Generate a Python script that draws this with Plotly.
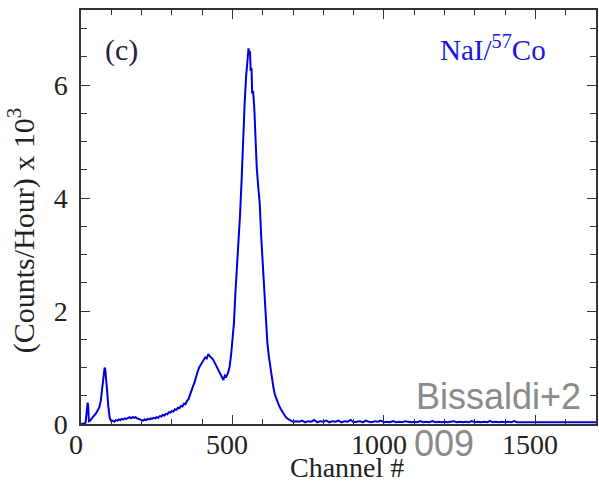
import plotly.graph_objects as go

# ---- data (channel, counts/hour x 10^3) ----
channels_low = [0, 5, 10, 15, 18, 20, 22, 24, 26, 30, 35, 40, 45, 50, 55, 60, 65, 70, 75, 78,
                80, 83, 86, 90, 95, 100, 105, 110, 115, 120, 125, 130, 135, 140, 145, 150, 155,
                160, 165, 170, 175, 180, 185, 190, 195, 200, 205, 210, 215, 220, 225, 230, 235,
                240, 245, 250, 255, 260, 265, 270, 275, 280, 285, 290, 295, 300, 305, 310, 315,
                320, 325, 330, 335, 340, 345, 350, 355, 360, 365, 370, 375, 380, 385, 390, 395,
                400, 405, 410, 415, 420, 425, 430, 435, 440, 445, 450, 455, 460, 465, 470, 475,
                480, 485, 490, 495, 500, 505, 510, 515, 520, 525, 530, 535, 540, 545, 550, 553,
                556, 558, 560, 563, 565, 568, 572, 575, 580, 585, 590, 595, 600, 605, 610, 615,
                620, 625, 630, 635, 640, 645, 650, 655, 660, 665, 670, 675, 680, 685, 690, 695, 700]
counts_low = [0.00, 0.00, 0.01, 0.02, 0.15, 0.30, 0.38, 0.30, 0.05, 0.06, 0.10, 0.14, 0.16, 0.19,
              0.23, 0.29, 0.40, 0.62, 0.88, 1.00, 0.97, 0.82, 0.60, 0.32, 0.10, 0.05, 0.06, 0.04,
              0.07, 0.06, 0.08, 0.07, 0.09, 0.08, 0.10, 0.09, 0.11, 0.12, 0.10, 0.12, 0.11, 0.12,
              0.10, 0.09, 0.08, 0.07, 0.06, 0.08, 0.07, 0.09, 0.08, 0.10, 0.09, 0.11, 0.10, 0.12,
              0.11, 0.14, 0.13, 0.16, 0.15, 0.18, 0.17, 0.21, 0.20, 0.23, 0.22, 0.26, 0.25, 0.29,
              0.28, 0.32, 0.31, 0.36, 0.35, 0.41, 0.44, 0.52, 0.58, 0.67, 0.74, 0.85, 0.93, 1.00,
              1.04, 1.10, 1.12, 1.18, 1.16, 1.24, 1.20, 1.18, 1.15, 1.10, 1.05, 1.00, 0.94, 0.90,
              0.85, 0.78, 0.86, 0.84, 0.90, 1.00, 1.20, 1.50, 1.80, 2.35, 2.75, 3.25, 3.70, 4.30,
              5.05, 5.65, 6.15, 6.45, 6.65, 6.55, 6.60, 6.25, 6.30, 5.85, 5.90, 5.60, 5.10, 4.55,
              4.20, 3.90, 3.30, 2.80, 2.30, 1.85, 1.45, 1.20, 1.00, 0.80, 0.65, 0.52, 0.44, 0.37,
              0.31, 0.26, 0.21, 0.17, 0.13, 0.10, 0.08, 0.06, 0.05, 0.04]

channels_tail = list(range(710, 1710, 10))
counts_tail = [0.05, 0.04, 0.06, 0.03, 0.05, 0.04, 0.07, 0.03, 0.05, 0.04,
               0.06, 0.03, 0.05, 0.04, 0.06, 0.03, 0.05, 0.04, 0.07, 0.03,
               0.04, 0.05, 0.03, 0.06, 0.04, 0.03, 0.05, 0.04, 0.06, 0.03,
               0.04, 0.03, 0.05, 0.03, 0.04, 0.03, 0.05, 0.04, 0.03, 0.04,
               0.03, 0.05, 0.03, 0.04, 0.03, 0.05, 0.03, 0.04, 0.03, 0.04,
               0.03, 0.04, 0.05, 0.03, 0.04, 0.03, 0.04, 0.03, 0.05, 0.03,
               0.04, 0.03, 0.04, 0.03, 0.05, 0.03, 0.04, 0.03, 0.04, 0.03,
               0.04, 0.03, 0.05, 0.03, 0.03, 0.04, 0.03, 0.04, 0.03, 0.04,
               0.03, 0.04, 0.03, 0.03, 0.04, 0.03, 0.04, 0.03, 0.03, 0.04,
               0.03, 0.04, 0.03, 0.03, 0.04, 0.03, 0.03, 0.04, 0.03, 0.03]

channels = channels_low + channels_tail
counts = counts_low + counts_tail

x_range = [0, 1700]
y_range = [0, 7.33]
x_ticks = [0, 500, 1000, 1500]
x_tick_labels = ["0", "500", "1000", "1500"]
y_ticks = [0, 2, 4, 6]

# ---- figure ----
W, H = 599, 483
L, R, T, B = 81, 1, 10, 59
PW, PH = W - L - R, H - T - B


def px(x):
    return (x - L) / PW


def py(y):
    return (H - B - y) / PH


serif = "Liberation Serif, Times New Roman, serif"
axis_col = "#333333"
tick_font = dict(family=serif, size=28, color="#222222")

fig = go.Figure()
fig.add_trace(go.Scatter(x=channels, y=counts, mode="lines",
                         line=dict(color="#0000dd", width=2), showlegend=False,
                         hoverinfo="skip"))

common = dict(showline=True, linecolor=axis_col, linewidth=1.5, mirror="allticks",
              ticks="inside", tickcolor=axis_col, tickwidth=1.3, showgrid=False,
              zeroline=False, tickfont=tick_font)

fig.update_xaxes(range=x_range, tickvals=x_ticks, ticklen=9, showticklabels=False,
                 minor=dict(dtick=100, ticks="inside", ticklen=5, tickcolor=axis_col,
                            tickwidth=1.2, showgrid=False),
                 **common)
fig.update_yaxes(range=y_range, tickvals=y_ticks, ticklen=9,
                 minor=dict(dtick=0.5, ticks="inside", ticklen=6, tickcolor=axis_col,
                            tickwidth=1.2, showgrid=False),
                 ticklabelstandoff=6, **common)

# x tick labels placed on the data scale
for v, t in zip(x_ticks, x_tick_labels):
    fig.add_annotation(xref="x", yref="paper", x=v, y=py(444), text=t, showarrow=False,
                       xanchor="center", yanchor="middle", xshift=-5, font=tick_font)

ann = [
    dict(text="Channel #", x=px(348), y=py(467), font=dict(family=serif, size=28, color="#222222")),
    dict(text="(Counts/Hour) x 10<sup>3</sup>", x=px(22), y=py(230), textangle=-90,
         font=dict(family=serif, size=30, color="#222222")),
    dict(text="(c)", x=px(122), y=py(50), font=dict(family=serif, size=30, color="#222238")),
    dict(text="NaI/<sup>57</sup>Co", x=px(495), y=py(48), font=dict(family=serif, size=29, color="#1515e8")),
    dict(text="Bissaldi+2", x=px(500), y=py(396),
         font=dict(family="Liberation Sans, Arial, sans-serif", size=36, color="#8a8a8a")),
    dict(text="009", x=px(445), y=py(443),
         font=dict(family="Liberation Sans, Arial, sans-serif", size=36, color="#8a8a8a")),
]
for a in ann:
    fig.add_annotation(xref="paper", yref="paper", showarrow=False,
                       xanchor="center", yanchor="middle", **a)

fig.update_layout(width=W, height=H, margin=dict(l=L, r=R, t=T, b=B, pad=0),
                  paper_bgcolor="white", plot_bgcolor="white")

fig.write_html("out.html")
